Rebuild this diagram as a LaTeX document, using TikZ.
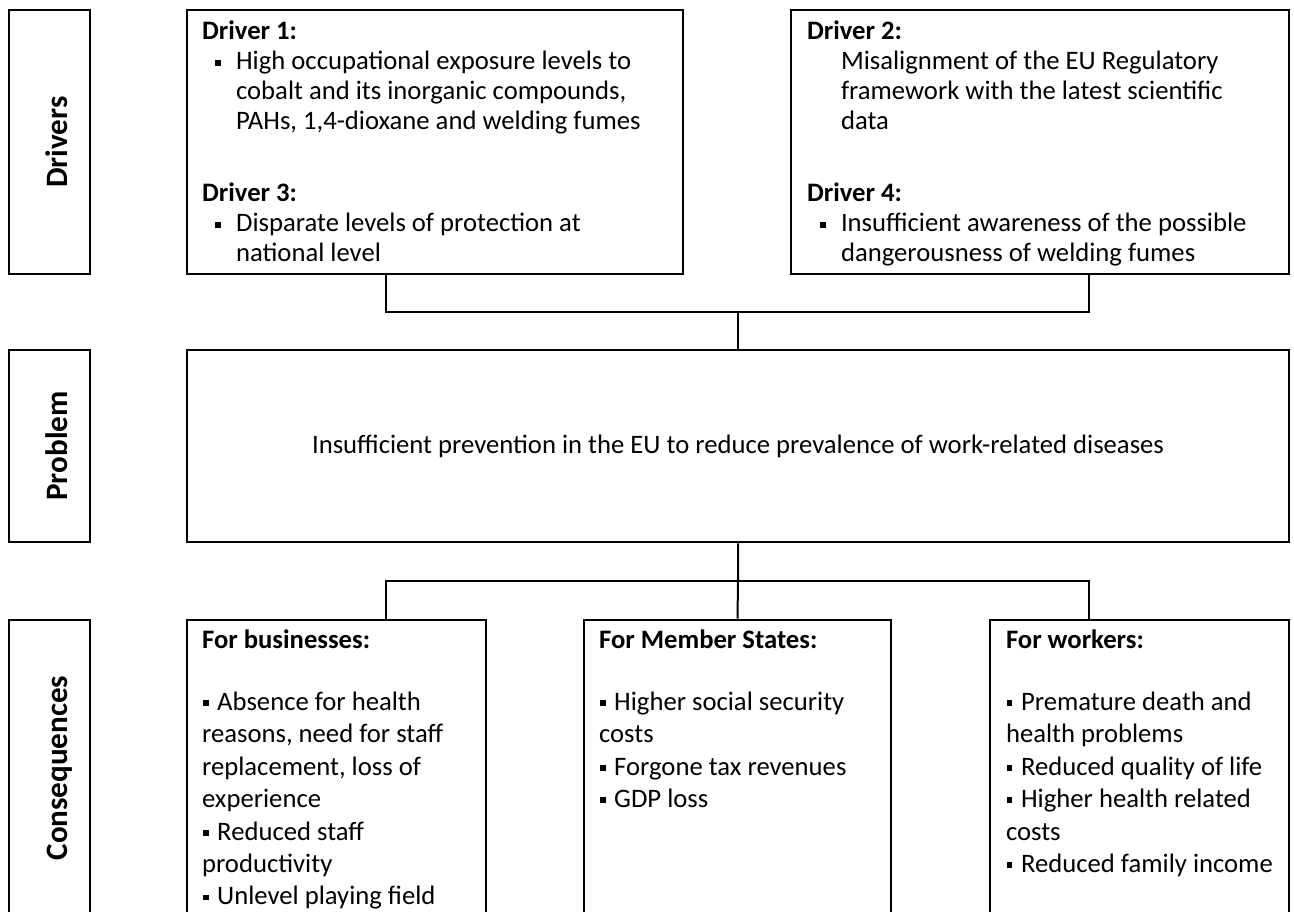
\documentclass[tikz,border=0pt]{standalone}
\usepackage{fontspec}
\setmainfont{Carlito}
\usetikzlibrary{positioning}

% square bullets, drawn as rules
\newcommand{\dbul}{\rule[1.6pt]{2.8pt}{2.8pt}}
\newcommand{\cbul}{\rule[2pt]{2.4pt}{2.6pt}}
\newcommand{\ditem}{\hspace*{5.9pt}\dbul\hspace*{6.6pt}}
\newcommand{\dcont}{\hspace*{15.3pt}}
\newcommand{\citem}{\hspace*{0.5pt}\cbul\hspace*{3.9pt}}

\tikzset{
  frame/.style={draw, line width=1.2pt, inner sep=0pt},
  side/.style={frame, rotate=90, minimum height=36.45pt,
    text height=16.6pt, text depth=0pt,
    font=\fontsize{14}{17}\selectfont\bfseries},
  drv/.style={frame, minimum height=118.8pt},
  csq/.style={frame, minimum height=133.2pt, minimum width=134.55pt},
  dtext/.style={inner sep=0pt, align=left, font=\fontsize{12}{13.5}\selectfont},
  ctext/.style={inner sep=0pt, align=left, font=\fontsize{12}{14.6}\selectfont},
  link/.style={line width=0.9pt}
}

\begin{document}
\begin{tikzpicture}[x=0.45pt,y=-0.45pt]
  \useasboundingbox (0,0) rectangle (1294,912);
  \clip (0,0) rectangle (1294,912);

  % row labels
  \node[side, minimum width=118.8pt] (ldrv) at (49.5,142) {Drivers};
  \node[side, minimum width=86.4pt] (lprob) at (49.5,446) {Problem};
  \node[side, minimum width=133.2pt] (lcons) at (49.5,768) {Consequences};

  % drivers
  \node[drv, minimum width=223.2pt] (d1) at (435,142) {};
  \node[drv, minimum width=224.1pt] (d2) at (1040,142) {};
  \node[dtext, below right=5.2pt and 7.2pt of d1.north west] (d1t) {%
    \textbf{Driver 1:}\\
    \ditem High occupational exposure levels to\\
    \dcont cobalt and its inorganic compounds,\\
    \dcont PAHs, 1,4-dioxane and welding fumes\\[18.9pt]
    \textbf{Driver 3:}\\
    \ditem Disparate levels of protection at\\
    \dcont national level};
  \node[dtext, below right=5.2pt and 7.6pt of d2.north west] (d2t) {%
    \textbf{Driver 2:}\\
    \dcont Misalignment of the EU Regulatory\\
    \dcont framework with the latest scientific\\
    \dcont data\\[18.9pt]
    \textbf{Driver 4:}\\
    \ditem Insufficient awareness of the possible\\
    \dcont dangerousness of welding fumes};

  % problem
  \node[frame, minimum width=495.9pt, minimum height=86.4pt,
    font=\fontsize{12}{14.6}\selectfont] (prob) at (738,446)
    {Insufficient prevention in the EU to reduce prevalence of work-related diseases};

  % consequences
  \node[csq] (bus) at (336.5,768) {};
  \node[csq, minimum width=138.15pt] (mem) at (737.5,768) {};
  \node[csq] (wrk) at (1139.5,768) {};
  \node[ctext, below right=5pt and 7.2pt of bus.north west] (bust) {%
    \textbf{For businesses:}\\[13pt]
    \citem Absence for health\\
    reasons, need for staff\\
    replacement, loss of\\
    experience\\
    \citem Reduced staff\\
    productivity\\
    \citem Unlevel playing field};
  \node[ctext, below right=5pt and 7.2pt of mem.north west] (memt) {%
    \textbf{For Member States:}\\[13pt]
    \citem Higher social security\\
    costs\\
    \citem Forgone tax revenues\\
    \citem GDP loss};
  \node[ctext, below right=5pt and 7.6pt of wrk.north west] (wrkt) {%
    \textbf{For workers:}\\[13pt]
    \citem Premature death and\\
    health problems\\
    \citem Reduced quality of life\\
    \citem Higher health related\\
    costs\\
    \citem Reduced family income};

  % connectors
  \coordinate (up) at (738,312);
  \coordinate (dn) at (738,581);
  \coordinate (xl) at (386,0);
  \coordinate (xr) at (1089,0);
  \draw[link] (d1.south -| xl) |- (up) -| (d2.south -| xr);
  \draw[link] (up) -- (prob.north);
  \draw[link] (prob.south) -- (dn) -- (mem.north);
  \draw[link] (bus.north -| xl) |- (dn) -| (wrk.north -| xr);
\end{tikzpicture}
\end{document}
